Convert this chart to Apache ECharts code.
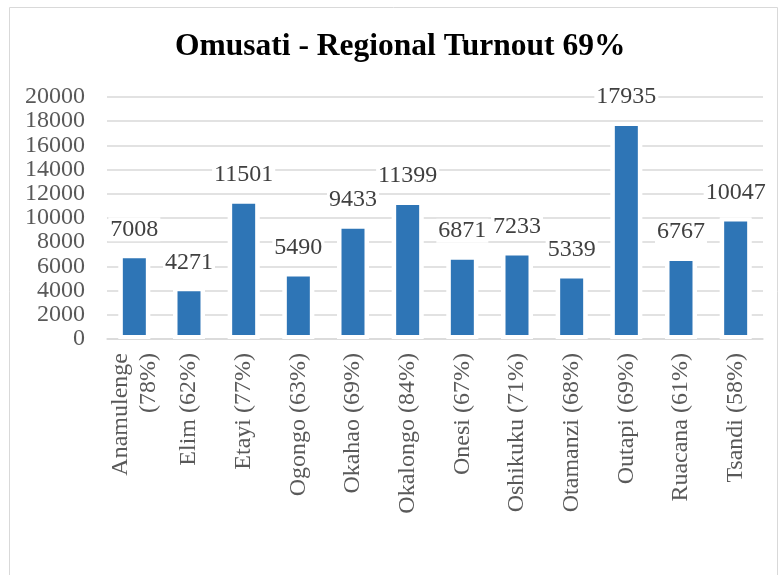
<!DOCTYPE html>
<html>
<head>
<meta charset="utf-8">
<script src="https://cdn.jsdelivr.net/npm/echarts@6/dist/echarts.min.js"></script>
<style>
  html, body { margin: 0; padding: 0; background: #fff; }
  #chart { width: 783px; height: 575px; }
</style>
</head>
<body>
<div id="chart"></div>
<script>
const constituencies = [
  'Anamulenge\n(78%)', 'Elim (62%)', 'Etayi (77%)', 'Ogongo (63%)', 'Okahao (69%)',
  'Okalongo (84%)', 'Onesi (67%)', 'Oshikuku (71%)', 'Otamanzi (68%)', 'Outapi (69%)',
  'Ruacana (61%)', 'Tsandi (58%)'
]
const votes = [7008, 4271, 11501, 5490, 9433, 11399, 6871, 7233, 5339, 17935, 6767, 10047]

const serif = '"Liberation Serif", "DejaVu Serif", serif'

const chart = echarts.init(document.getElementById('chart'))

chart.setOption({
  animation: false,
  title: {
    text: 'Omusati - Regional Turnout 69%',
    left: 170,
    top: 26,
    textStyle: {
      fontFamily: serif,
      fontSize: 31.5,
      fontWeight: 'bold',
      color: '#000'
    }
  },
  graphic: [{
    type: 'rect',
    shape: { x: 9.5, y: 7.5, width: 768, height: 600 },
    style: { fill: 'none', stroke: '#d9d9d9', lineWidth: 1 },
    z: -1
  }],
  grid: {
    left: 107,
    right: 20,
    top: 97,
    bottom: 236
  },
  xAxis: [{
    type: 'category',
    data: constituencies,
    axisLine: { lineStyle: { color: '#d9d9d9', width: 1.5 } },
    axisTick: { show: false },
    axisLabel: {
      rotate: 90,
      interval: 0,
      margin: 14,
      fontFamily: serif,
      fontSize: 24,
      lineHeight: 28,
      color: '#595959'
    }
  }, {
    // hidden twin axis so the white halo bars centre on their own
    type: 'category',
    data: constituencies,
    show: false
  }],
  yAxis: {
    type: 'value',
    min: 0,
    max: 20000,
    interval: 2000,
    axisLine: { show: false },
    axisTick: { show: false },
    splitLine: { lineStyle: { color: '#d9d9d9', width: 1.5 } },
    axisLabel: {
      margin: 22,
      fontFamily: serif,
      fontSize: 24,
      color: '#595959',
      formatter: v => String(v)
    }
  },
  series: [{
    type: 'bar',
    xAxisIndex: 1,
    data: votes,
    barWidth: 32,
    silent: true,
    z: 1,
    itemStyle: { color: '#fff' }
  }, {
    type: 'bar',
    data: votes,
    barWidth: 31,
    z: 2,
    itemStyle: {
      color: '#2e75b6',
      borderColor: '#fff',
      borderWidth: 4
    },
    label: {
      show: true,
      position: 'top',
      distance: 13,
      fontFamily: serif,
      fontSize: 24,
      color: '#404040',
      backgroundColor: '#fff',
      padding: [0, 2]
    }
  }]
})
</script>
</body>
</html>
